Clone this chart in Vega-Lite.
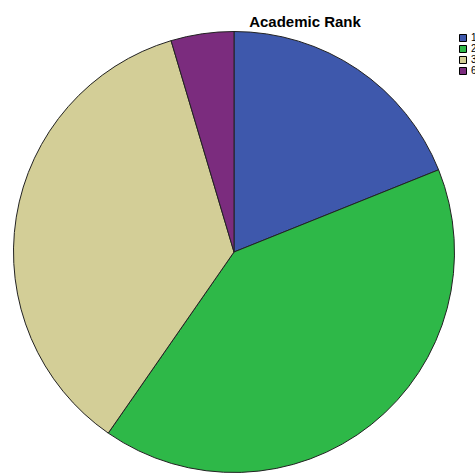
{
  "$schema": "https://vega.github.io/schema/vega-lite/v6.json",
  "autosize": {"type": "none"},
  "width": 468,
  "height": 442,
  "padding": {"left": 0, "top": 31, "right": 7, "bottom": 0},
  "background": "white",
  "title": {
    "text": "Academic Rank",
    "anchor": "middle",
    "frame": "group",
    "dx": 71,
    "dy": 19,
    "offset": 7,
    "baseline": "alphabetic",
    "font": "Liberation Sans",
    "fontSize": 15,
    "fontWeight": "bold",
    "color": "black"
  },
  "data": {
    "values": [
      {"rank": "1", "order": 1, "value": 18.9},
      {"rank": "2", "order": 2, "value": 40.7},
      {"rank": "3", "order": 3, "value": 35.7},
      {"rank": "6", "order": 4, "value": 4.6}
    ]
  },
  "mark": {"type": "arc", "outerRadius": 220.5, "stroke": "#222222", "strokeWidth": 1},
  "encoding": {
    "theta": {"field": "value", "type": "quantitative", "stack": true},
    "order": {"field": "order", "type": "quantitative"},
    "color": {
      "field": "rank",
      "type": "nominal",
      "scale": {"domain": ["1", "2", "3", "6"], "range": ["#3e58ac", "#2eb848", "#d3ce97", "#7b2c7e"]},
      "legend": {
        "title": null,
        "orient": "none",
        "legendX": 458,
        "legendY": 2,
        "padding": 0,
        "symbolType": "square",
        "symbolSize": 49,
        "symbolStrokeColor": "black",
        "symbolStrokeWidth": 1,
        "symbolOpacity": 1,
        "labelFont": "Liberation Sans",
        "labelFontSize": 10,
        "labelColor": "black",
        "labelOffset": 3,
        "rowPadding": -2
      }
    }
  },
  "config": {"view": {"stroke": null}}
}
